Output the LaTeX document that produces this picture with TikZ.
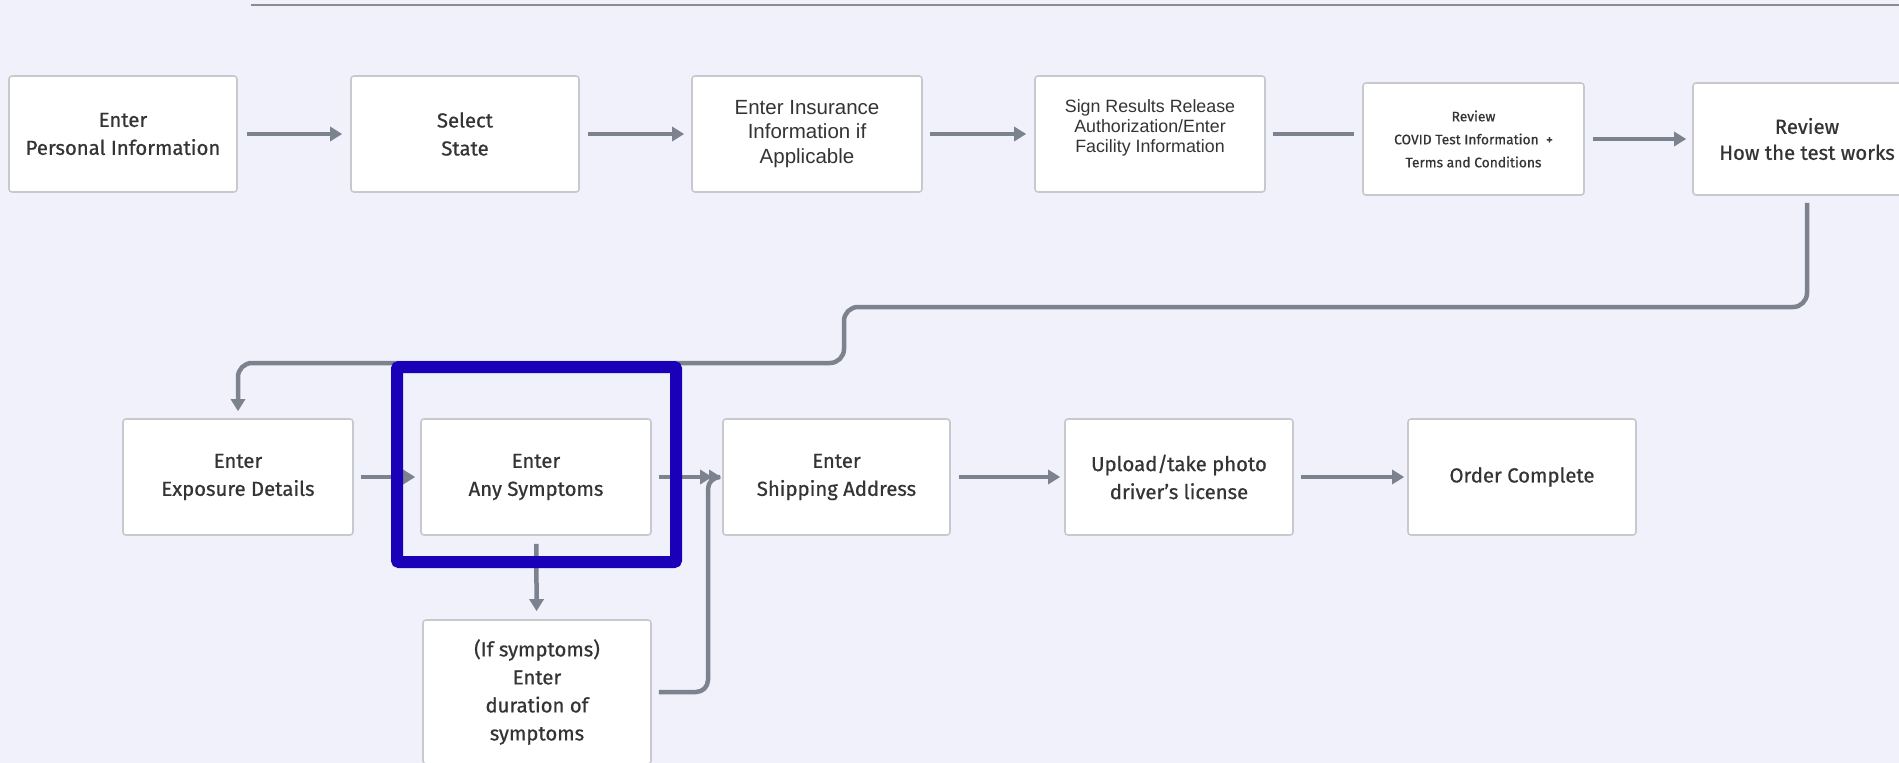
\documentclass[tikz,border=0pt]{standalone}
\usepackage{fontspec}
\setmainfont{Fira Sans}[FakeBold=0.7]
\newfontfamily\arialfont{Liberation Sans}
\usetikzlibrary{arrows.meta,calc}
\definecolor{bg}{HTML}{F1F1FB}
\definecolor{boxline}{HTML}{C8C9CE}
\definecolor{flowgray}{HTML}{7C838E}
\definecolor{ink}{HTML}{343436}
\definecolor{focusblue}{HTML}{1B00BA}
\definecolor{rulegray}{HTML}{8C8C8C}

\begin{document}
\begin{tikzpicture}[x=1pt,y=-1pt,
  stepbox/.style={draw=boxline, fill=white, line width=1.6pt, rounded corners=3pt,
    align=center, text=ink, inner sep=0pt, minimum width=228pt, minimum height=116pt,
    font=\fontsize{20.3}{28}\selectfont},
  flowline/.style={draw=flowgray, line width=4.5pt},
  flow/.style={flowline, -{Triangle[length=12pt,width=14pt]}},
  focusbox/.style={draw=focusblue, line width=12pt, rounded corners=2pt,
    minimum width=279pt, minimum height=195pt, inner sep=0pt}
]
% canvas
\fill[bg] (0,0) rectangle (1899,763);
\useasboundingbox (0,0) rectangle (1899,763);
\draw[rulegray, line width=1.8pt] (251,5) -- (1899,5);

% first row
\node[stepbox] (n1) at (123,134) {Enter\\Personal Information};
\node[stepbox] (n2) at (465,134) {Select\\State};
\node[stepbox, minimum width=230pt, font=\arialfont\fontsize{20.5}{24.5}\selectfont] (n3) at (807,134) {Enter Insurance\\Information if\\Applicable};
\node[stepbox, minimum width=230pt,
  label={[yshift=6pt, align=center, text=ink, font=\arialfont\fontsize{17.8}{20}\selectfont]center:{Sign Results Release\\Authorization/Enter\\Facility Information}}]
  (n4) at (1150,134) {};
\node[stepbox, minimum width=221pt, minimum height=112pt, font=\fontsize{13.8}{23}\selectfont] (n5) at (1473.5,139) {Review\\COVID Test Information~ +\\Terms and Conditions};
\node[stepbox, minimum height=112pt, font=\fontsize{20.3}{26}\selectfont] (n6) at (1807,139) {Review\\How the test works};

% second row
\node[stepbox, minimum width=230pt] (n7) at (238,477) {Enter\\Exposure Details};
\node[stepbox, minimum width=230pt] (n8) at (536,477) {Enter\\Any Symptoms};
\node[stepbox, minimum height=144pt] (n9) at (537,692) {(If symptoms)\\Enter\\duration of\\symptoms};
\node[stepbox, minimum width=227pt] (n10) at (836.5,477) {Enter\\Shipping Address};
\node[stepbox] (n11) at (1179,477) {Upload/take photo\\driver's license};
\node[stepbox] (n12) at (1522,477) {Order Complete};

% connectors, first row
\draw[flow, shorten <=9pt, shorten >=8pt] (n1) -- (n2);
\draw[flow, shorten <=8pt, shorten >=7pt] (n2) -- (n3);
\draw[flow, shorten <=7pt, shorten >=8pt] (n3) -- (n4);
\draw[flowline, shorten <=7pt, shorten >=8pt] (n4.east) -- (n4.east -| n5.west);
\draw[flow, shorten <=8pt, shorten >=6pt] (n5) -- (n6);

% wrap-around to the second row
\coordinate (bendA) at (844,307);
\coordinate (bendB) at (238,363);
\draw[flow, rounded corners=14pt, shorten <=7pt, shorten >=7pt]
  (n6.south) |- (bendA) |- (bendB) -- (n7.north);

% connectors, second row
\draw[flow, shorten <=7pt, shorten >=5pt] (n7) -- (n8);
\draw[flow, shorten <=7pt, shorten >=10pt] (n8) -- (n10);
\draw[flow, shorten <=8pt, shorten >=8pt] (n8) -- (n9);
\coordinate (merge) at (708,477);
\draw[flow, shorten <=7pt, shorten >=1pt, rounded corners=12pt]
  (n9.east) -| (merge) -- (n10.west);
\draw[flow, shorten <=8pt, shorten >=4pt] (n10) -- (n11);
\draw[flow, shorten <=7pt, shorten >=3pt] (n11) -- (n12);

% highlight frame
\node[focusbox] (focus) at (536.5,464.5) {};
\end{tikzpicture}
\end{document}
